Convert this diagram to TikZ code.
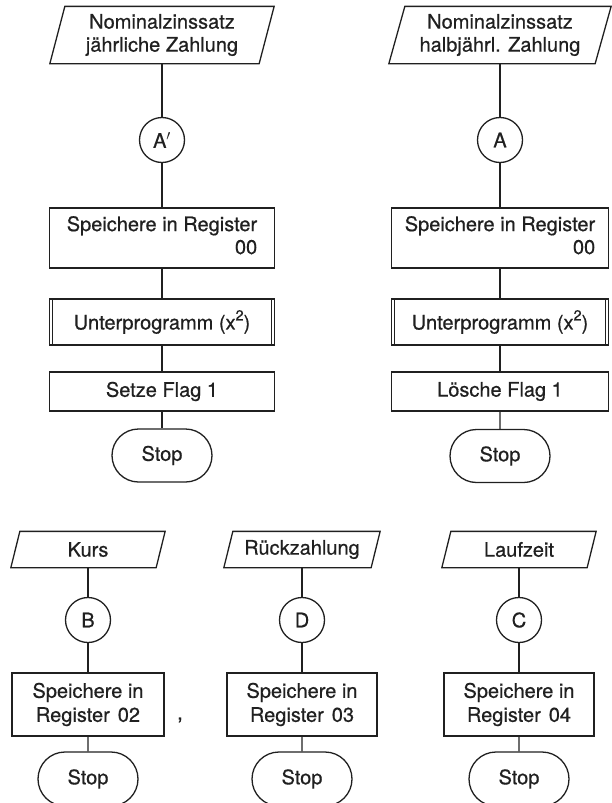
\documentclass[tikz,border=0pt]{standalone}
\usepackage{fontspec}
\setmainfont{TeX Gyre Heros}[FakeBold=0.6]
\usetikzlibrary{shapes.misc}
\definecolor{ink}{HTML}{202020}
\newcommand\drawpara[2]{\draw[ink] ([xshift=#2]#1.north west) -- ([xshift=#2]#1.north east) -- ([xshift=-#2]#1.south east) -- ([xshift=-#2]#1.south west) -- cycle;}
\newcommand\subbars[1]{\draw[ink,line width=1pt] ([xshift=4pt]#1.north west) -- ([xshift=4pt]#1.south west); \draw[ink,line width=1pt] ([xshift=-4pt]#1.north east) -- ([xshift=-4pt]#1.south east);}
\newcommand\sqr{\raisebox{0.45em}{\fontsize{14.5}{14.5}\selectfont 2}}
\begin{document}
\begin{tikzpicture}[x=1pt,y=-1pt,line width=1.3pt,
  txt/.style={font=\fontsize{20}{23}\selectfont, text=ink},
  txts/.style={font=\fontsize{20}{24}\selectfont, text=ink},
  io/.style={txt, inner sep=0pt, align=center},
  proc/.style={txt, draw=ink, rectangle, inner sep=0pt, align=center},
  conn/.style={txt, draw=ink, circle, inner sep=0pt, minimum size=45pt},
  term/.style={txt, draw=ink, rounded rectangle, inner sep=0pt, minimum height=53pt, minimum width=100pt},
  link/.style={draw=ink}]
\useasboundingbox (0,0) rectangle (612,803);
% left column
\node[io, minimum width=208pt, minimum height=56pt] (inA1) at (162,35) {Nominalzinssatz\\jährliche Zahlung};
\drawpara{inA1}{7.5pt}
\node[conn] (cA1) at (162,140) {A$'$};
\node[proc, minimum width=225pt, minimum height=60pt] (s1) at (162,238) {\begin{tabular}{@{}r@{}}Speichere in Register\\00\end{tabular}};
\node[proc, minimum width=225pt, minimum height=46pt] (u1) at (162,322) {Unterprogramm (x\sqr)};
\subbars{u1}
\node[proc, minimum width=225pt, minimum height=39pt] (f1) at (162,391.5) {Setze Flag 1};
\node[term] (t1) at (162,455.5) {Stop};
% right column
\node[io, minimum width=205pt, minimum height=56pt] (inA2) at (500,35) {Nominalzinssatz\\halbjährl. Zahlung};
\drawpara{inA2}{8pt}
\node[conn] (cA2) at (500,140) {A};
\node[proc, minimum width=217pt, minimum height=60pt] (s2) at (500,238) {\begin{tabular}{@{}r@{}}Speichere in Register\\00\end{tabular}};
\node[proc, minimum width=217pt, minimum height=46pt] (u2) at (500,322) {Unterprogramm (x\sqr)};
\subbars{u2}
\node[proc, minimum width=217pt, minimum height=39pt] (f2) at (500,391.5) {Lösche Flag 1};
\node[term] (t2) at (500,456) {Stop};
% bottom row
\node[io, txts, minimum width=144pt, minimum height=35pt] (inB) at (88,549.5) {Kurs};
\drawpara{inB}{4.5pt}
\node[conn, txts] (cB) at (88,620) {B};
\node[proc, txts, minimum width=152pt, minimum height=63pt] (sB) at (88,704.5) {Speichere in\\Register\hspace{0.4em}02};
\node[term, txts, minimum height=54pt] (tB) at (88,779) {Stop};

\node[io, txts, minimum width=146pt, minimum height=35pt] (inD) at (302,549.5) {Rückzahlung};
\drawpara{inD}{4.5pt}
\node[conn, txts] (cD) at (302,620) {D};
\node[proc, txts, minimum width=150pt, minimum height=63pt] (sD) at (302,704.5) {Speichere in\\Register\hspace{0.4em}03};
\node[term, txts, minimum height=54pt] (tD) at (302,779) {Stop};

\node[io, txts, minimum width=144pt, minimum height=35pt] (inC) at (519,549.5) {Laufzeit};
\drawpara{inC}{4.5pt}
\node[conn, txts] (cC) at (519,620) {C};
\node[proc, txts, minimum width=150pt, minimum height=63pt] (sC) at (519,704.5) {Speichere in\\Register\hspace{0.4em}04};
\node[term, txts, minimum height=54pt] (tC) at (519,779) {Stop};

\node[txts] (comma) at (180,720) {,};
% connectors
\foreach \a/\b in {inA1/cA1, cA1/s1, s1/u1, u1/f1, f1/t1, inA2/cA2, cA2/s2, s2/u2, u2/f2, f2/t2, inB/cB, cB/sB, sB/tB, inD/cD, cD/sD, sD/tD, inC/cC, cC/sC, sC/tC}
  \draw[link] (\a) -- (\b);
\end{tikzpicture}
\end{document}
